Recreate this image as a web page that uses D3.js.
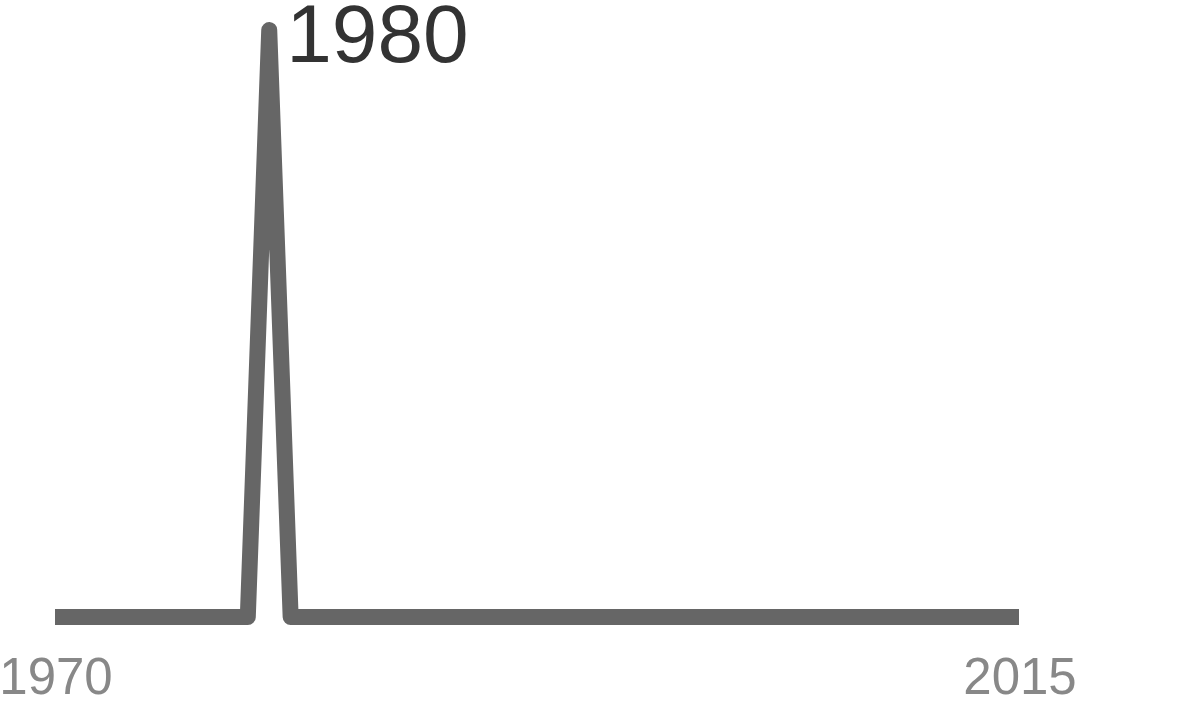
<!DOCTYPE html>
<html>
<head>
<meta charset="utf-8">
<script src="https://cdn.jsdelivr.net/npm/d3@7"></script>
<style>
  body { margin: 0; background: #fff; }
  text { font-family: "Liberation Sans", Arial, sans-serif; }
</style>
</head>
<body>
<div id="chart"></div>
<script>
// yearly series, one spike
const years = d3.range(1970, 2016);
const values = years.map(y => (y === 1980 ? 1 : 0));
const peakYear = 1980;
const endLabels = [1970, 2015];

const width = 1181, height = 708;
const margin = {top: 30, right: 162, bottom: 91, left: 55};

const svg = d3.select('#chart')
  .append('svg')
  .attr('width', width)
  .attr('height', height);

const x = d3.scaleLinear()
  .domain([1970, 2015])
  .range([margin.left, width - margin.right]);

const y = d3.scaleLinear()
  .domain([0, 1])
  .range([height - margin.bottom, margin.top]);

const data = years.map((yr, i) => ({year: yr, value: values[i]}));

svg.append('path')
  .datum(data)
  .attr('fill', 'none')
  .attr('stroke', '#666')
  .attr('stroke-width', 16)
  .attr('stroke-linejoin', 'round')
  .attr('stroke-linecap', 'butt')
  .attr('d', d3.line().x(d => x(d.year)).y(d => y(d.value)));

// end labels under the line
svg.selectAll('.endLabel')
  .data(endLabels)
  .enter()
  .append('text')
  .attr('class', 'endLabel')
  .attr('x', d => x(d) + 1)
  .attr('y', 694)
  .attr('text-anchor', 'middle')
  .attr('font-size', 51)
  .attr('fill', '#888')
  .text(d => d);

// peak label
const peak = data.find(d => d.year === peakYear);
svg.append('text')
  .attr('x', x(peak.year) + 17)
  .attr('y', 62)
  .attr('font-size', 82)
  .attr('fill', '#333')
  .text(peak.year);
</script>
</body>
</html>
